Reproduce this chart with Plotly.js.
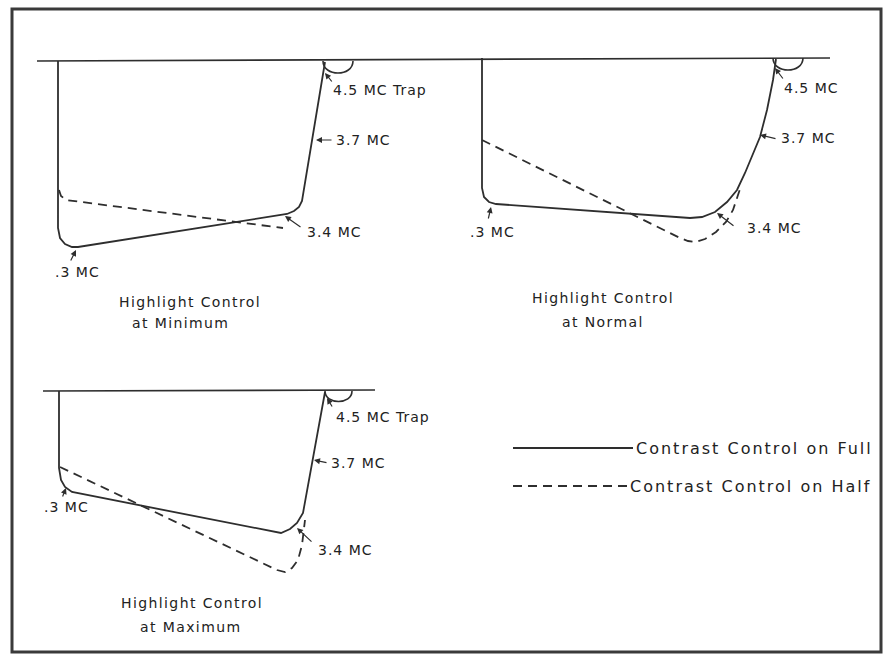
<!DOCTYPE html>
<html>
<head>
<meta charset="utf-8">
<script src="https://cdn.plot.ly/plotly-3.0.1.min.js"></script>
<style>
  html, body { margin: 0; padding: 0; background: #ffffff; }
  #chart { width: 890px; height: 658px; }
  text.annotation-text { letter-spacing: 1px; }
  text.annotation-text[data-unformatted^="Highlight"] { letter-spacing: 1.4px; }
  text.annotation-text[data-unformatted^="at "] { letter-spacing: 1.4px; }
  text.annotation-text[data-unformatted^="Contrast"] { letter-spacing: 2px; }
</style>
</head>
<body>
<div id="chart"></div>
<script>
// ---- Data (drawing units, y grows downward) ----
// Zero-response reference lines
const baseTopX = [37, 830];
const baseTopY = [61, 58];
const baseBotX = [43, 375];
const baseBotY = [391, 390];

// Panel 1: Highlight Control at Minimum
const minFullX = [58, 58, 60, 65, 72, 78, 287, 294, 299, 302, 325];
const minFullY = [61, 228, 238, 244, 247, 247, 214, 211, 207, 201, 62];
const minHalfX = [59, 61, 66, 283];
const minHalfY = [190, 196, 200, 228];

// Panel 2: Highlight Control at Normal
const normFullX = [482, 482, 484, 489, 496, 690, 702, 715, 727, 737, 745, 752, 760, 767, 773, 776];
const normFullY = [58, 188, 197, 202, 204, 218, 217, 212, 202, 190, 173, 157, 137, 110, 80, 59];
const normHalfX = [482, 680, 688, 696, 705, 716, 726, 733, 738, 741];
const normHalfY = [140, 238, 241, 242, 239, 232, 222, 210, 195, 186];

// Panel 3: Highlight Control at Maximum
const maxFullX = [59, 59, 61, 65, 72, 273, 281, 290, 297, 303, 325];
const maxFullY = [391, 468, 480, 487, 492, 532, 533, 529, 523, 513, 392];
const maxHalfX = [60, 277, 285, 292, 298, 302, 305];
const maxHalfY = [467, 570, 572, 568, 560, 545, 520];

// 4.5 MC trap notches: [left x, right x, baseline y]
const trapLeft = [323, 773, 325];
const trapRight = [353, 803, 352];
const trapBase = [61, 58, 391];
const trapDepth = [16, 16, 14];

// Frequency labels
const labelText = ["4.5 MC Trap", "3.7 MC", "3.4 MC", ".3 MC",
                   "4.5 MC", "3.7 MC", "3.4 MC", ".3 MC",
                   "4.5 MC Trap", "3.7 MC", "3.4 MC", ".3 MC"];
const labelX = [331, 334, 305, 53, 782, 779, 745, 468, 334, 329, 316, 42];
const labelY = [90, 140, 232, 272, 88, 138, 228, 232, 417, 463, 550, 507];

// Pointer arrows: tail -> head
const arrowTailX = [333, 333, 302, 70, 784, 777, 735, 488, 333, 328, 313, 62];
const arrowTailY = [83, 140, 228, 262, 80, 139, 227, 220, 408, 463, 543, 498];
const arrowHeadX = [325, 316, 285, 76, 775, 760, 717, 491, 327, 314, 297, 66];
const arrowHeadY = [73, 140, 216, 250, 68, 135, 213, 207, 398, 460, 528, 488];

// Panel captions
const captionTop = ["Highlight Control", "Highlight Control", "Highlight Control"];
const captionBot = ["at Minimum", "at Normal", "at Maximum"];
const captionX = [190, 603, 192];
const captionBotX = [180, 603, 191];
const captionTopY = [302, 298, 603];
const captionBotY = [323, 322, 627];

// Key
const keyText = ["Contrast Control on Full", "Contrast Control on Half"];
const keyLineX0 = [513, 513];
const keyLineX1 = [633, 627];
const keyY = [448, 486];

// ---- Drawing ----
const ink = "#2e2e2e";
const textInk = "#222222";
const font = "DejaVu Sans, Liberation Sans, sans-serif";
const solid = {color: ink, width: 1.8};
const dashed = {color: ink, width: 1.8, dash: "9px,6px"};

const traces = [];
function addLine(x, y, line) {
  traces.push({type: "scatter", mode: "lines", x: x, y: y, line: line, hoverinfo: "skip"});
}
addLine(baseTopX, baseTopY, {color: ink, width: 1.7});
addLine(baseBotX, baseBotY, {color: ink, width: 1.7});
addLine(minFullX, minFullY, solid);
addLine(minHalfX, minHalfY, dashed);
addLine(normFullX, normFullY, solid);
addLine(normHalfX, normHalfY, dashed);
addLine(maxFullX, maxFullY, solid);
addLine(maxHalfX, maxHalfY, dashed);
for (let i = 0; i < keyText.length; i++) {
  addLine([keyLineX0[i], keyLineX1[i]], [keyY[i], keyY[i]], i === 0 ? solid : dashed);
}

const shapes = [];
for (let i = 0; i < trapLeft.length; i++) {
  const l = trapLeft[i], r = trapRight[i], b = trapBase[i], d = trapDepth[i];
  shapes.push({type: "path", xref: "x", yref: "y",
    path: `M ${l},${b} C ${l},${b + d} ${r},${b + d} ${r},${b}`,
    line: {color: ink, width: 1.6}});
}
shapes.push({type: "rect", xref: "x", yref: "y", x0: 12, y0: 9, x1: 881, y1: 652,
  line: {color: "#3a3a3a", width: 3}});

const annotations = [];
for (let i = 0; i < labelText.length; i++) {
  annotations.push({x: labelX[i], y: labelY[i], xref: "x", yref: "y", text: labelText[i],
    showarrow: false, xanchor: "left", yanchor: "middle",
    font: {family: font, size: 14, color: textInk}});
  annotations.push({x: arrowHeadX[i], y: arrowHeadY[i], ax: arrowTailX[i], ay: arrowTailY[i],
    xref: "x", yref: "y", axref: "x", ayref: "y", text: "", showarrow: true,
    arrowhead: 2, arrowsize: 1, arrowwidth: 1.2, arrowcolor: ink, standoff: 0});
}
for (let i = 0; i < captionTop.length; i++) {
  annotations.push({x: captionX[i], y: captionTopY[i], xref: "x", yref: "y", text: captionTop[i],
    showarrow: false, xanchor: "center", yanchor: "middle",
    font: {family: font, size: 14, color: textInk}});
  annotations.push({x: captionBotX[i], y: captionBotY[i], xref: "x", yref: "y", text: captionBot[i],
    showarrow: false, xanchor: "center", yanchor: "middle",
    font: {family: font, size: 14, color: textInk}});
}
for (let i = 0; i < keyText.length; i++) {
  annotations.push({x: keyLineX1[i] + 1, y: keyY[i], xref: "x", yref: "y", text: keyText[i],
    showarrow: false, xanchor: "left", yanchor: "middle",
    font: {family: font, size: 16, color: textInk}});
}

const layout = {
  width: 890, height: 658,
  margin: {l: 0, r: 0, t: 0, b: 0},
  paper_bgcolor: "#ffffff", plot_bgcolor: "#ffffff",
  showlegend: false,
  xaxis: {range: [0, 890], visible: false, fixedrange: true},
  yaxis: {range: [658, 0], visible: false, fixedrange: true},
  shapes: shapes,
  annotations: annotations
};

Plotly.newPlot("chart", traces, layout, {staticPlot: true, displayModeBar: false});
</script>
</body>
</html>
